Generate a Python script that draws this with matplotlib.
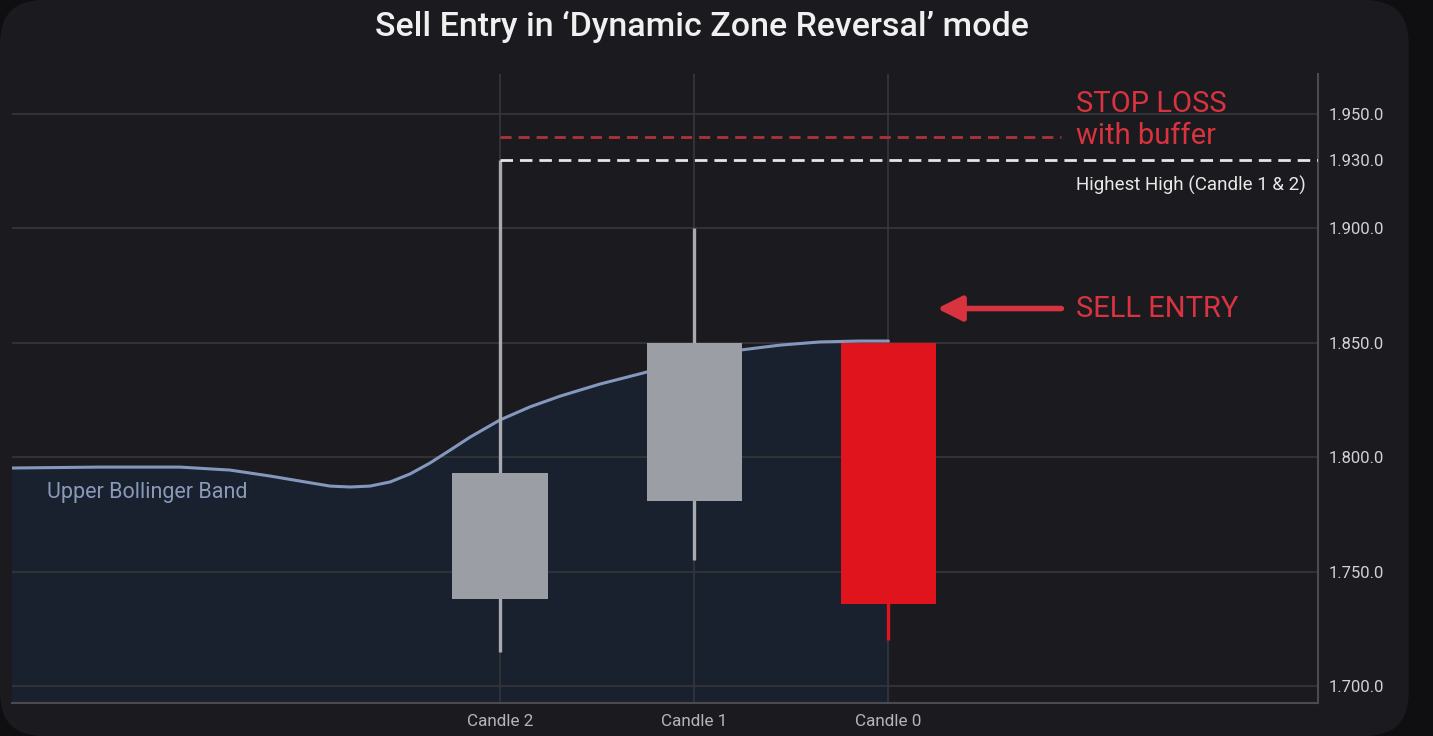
import numpy as np
import matplotlib.pyplot as plt
from matplotlib.patches import FancyBboxPatch
from matplotlib.ticker import FuncFormatter

plt.rcParams['font.family'] = ['Roboto', 'DejaVu Sans']

# candles, oldest first
candle_names = ["Candle 2", "Candle 1", "Candle 0"]
candle_x = [0, 1, 2]
opens = [1738, 1781, 1850]
closes = [1793, 1850, 1736]
highs = [1930, 1900, 1850]
lows = [1715, 1755, 1720]
candle_colors = ["#9c9ea5", "#9c9ea5", "#e0141c"]
wick_colors = ["#a8aab0", "#a8aab0", "#e0141c"]

# upper bollinger band
band_x = [-2.512, -2.059, -1.647, -1.390, -1.184, -1.030, -0.875, -0.772, -0.669,
          -0.566, -0.463, -0.360, -0.257, -0.154, 0.0, 0.154, 0.309, 0.515, 0.736,
          0.978, 1.241, 1.441, 1.647, 1.853, 2.0]
band_y = [1795.3, 1795.7, 1795.7, 1794.4, 1791.8, 1789.6, 1787.4, 1787.0, 1787.4,
          1789.2, 1792.7, 1797.5, 1803.1, 1808.8, 1816.3, 1822.0, 1826.7, 1832.0, 1836.8,
          1842.5, 1846.9, 1849.0, 1850.4, 1850.8, 1850.8]

highest_high = max(highs[:2])
stop_loss = 1940
entry_price = 1865

bg = "#1b1b1f"
red = "#d8333f"

fig = plt.figure(figsize=(14.33, 7.36), dpi=100, facecolor="#0f0f11")
fig.patches.append(FancyBboxPatch((0.0, 0.0), 0.983, 1.0, boxstyle="round,pad=0,rounding_size=0.03",
                                  transform=fig.transFigure, facecolor=bg, edgecolor="none",
                                  mutation_aspect=1433 / 736, zorder=-10))

ax = fig.add_axes([12 / 1433, 33 / 736, 1306 / 1433, 629 / 736])
ax.set_facecolor("none")

# band fill and line
ax.fill_between(band_x, 1600, band_y, color="#18212d", zorder=1)
ax.plot(band_x, band_y, color="#8597bd", lw=2.2, zorder=3, solid_capstyle="round",
        solid_joinstyle="round")

# candles
for x, o, c, h, l, col, wcol in zip(candle_x, opens, closes, highs, lows, candle_colors, wick_colors):
    ax.vlines(x, l, h, color=wcol, lw=2.4, zorder=4)
    ax.bar(x, abs(c - o), bottom=min(o, c), width=0.49, color=col, zorder=5)

# levels
ax.hlines(stop_loss, candle_x[0], 2.89, colors="#ae323b", lw=2, linestyles=(0, (4, 2.5)), zorder=6)
ax.hlines(highest_high, candle_x[0], 4.3, colors="#e6e6e6", lw=2, linestyles=(0, (4.5, 2.5)), zorder=6)

ax.text(2.965, 1954.5, "STOP LOSS", color=red, fontsize=21, va="center", ha="left")
ax.text(2.965, 1940.6, "with buffer", color=red, fontsize=21, va="center", ha="left")
ax.text(2.965, 1919, "Highest High (Candle 1 & 2)", color="#e8e8e8", fontsize=13.5, va="center", ha="left")
ax.text(2.965, entry_price, "SELL ENTRY", color=red, fontsize=21, va="center", ha="left")
ax.annotate("", xy=(2.25, entry_price), xytext=(2.89, entry_price),
            arrowprops=dict(arrowstyle="-|>,head_length=1.5,head_width=0.75", color=red, lw=4,
                            shrinkA=0, shrinkB=0))
ax.text(-2.33, 1784.8, "Upper Bollinger Band", color="#8a99b8", fontsize=15.5, va="center", ha="left")

# axes
ax.set_xlim(-2.512, 4.211)
ax.set_ylim(1692.6, 1967.5)
ax.set_xticks(candle_x)
ax.set_xticklabels(candle_names)
ax.set_yticks([1700, 1750, 1800, 1850, 1900, 1950])
ax.set_yticks([highest_high], minor=True)
fmt = FuncFormatter(lambda v, p: f"{int(v) // 1000}.{int(v) % 1000:03d}.0")
ax.yaxis.set_major_formatter(fmt)
ax.yaxis.set_minor_formatter(fmt)
ax.yaxis.tick_right()
ax.tick_params(axis="y", which="both", length=0, pad=8, labelsize=12, labelcolor="#d2d2d5")
ax.tick_params(axis="x", length=0, pad=8, labelsize=12.3, labelcolor="#b4b4ba")
ax.grid(True, which="major", color="#36363b", lw=1.2, zorder=0)

for side in ["top", "left"]:
    ax.spines[side].set_visible(False)
for side in ["bottom", "right"]:
    ax.spines[side].set_color("#4a4a50")
    ax.spines[side].set_linewidth(1.5)

fig.text(0.49, 0.963, "Sell Entry in \u2018Dynamic Zone Reversal\u2019 mode", color="#f0f0f0",
         fontsize=24.5, fontweight="medium", ha="center", va="center")

fig.savefig("out.png", dpi=100, facecolor=fig.get_facecolor())
